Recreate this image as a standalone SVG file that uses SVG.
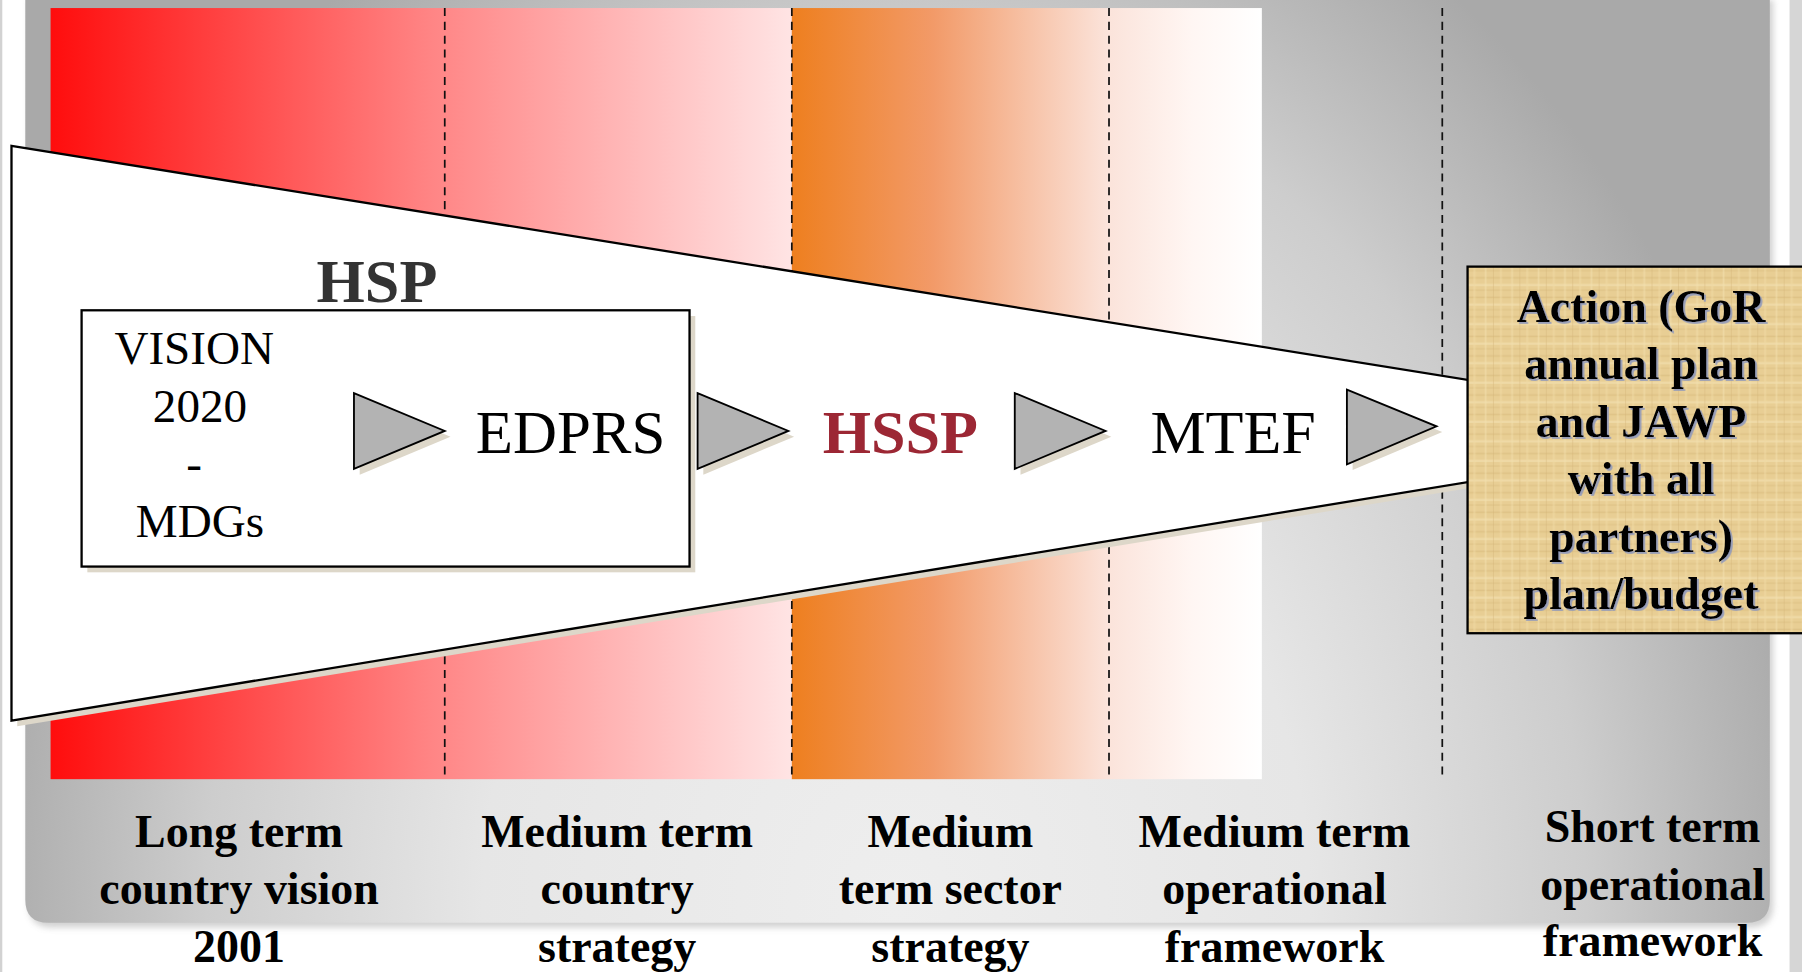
<svg xmlns="http://www.w3.org/2000/svg" width="1802" height="972" viewBox="0 0 1802 972">
<defs>
<style>
.reg{font-family:"Liberation Serif","Times New Roman",serif;font-weight:normal}
.bold{font-family:"Liberation Serif","Times New Roman",serif;font-weight:bold}
.dash{stroke:#111;stroke-width:1.5;stroke-dasharray:7 5;fill:none}
.tri{fill:#B3B3B3;stroke:#000;stroke-width:1.6;stroke-linejoin:miter}
.shadow{fill:#DDD7C9}
.lbl{font-size:40px;text-anchor:middle;fill:#000}
.act{font-size:40px;text-anchor:middle;fill:#000}
</style>
<radialGradient id="panelGrad" gradientUnits="userSpaceOnUse" cx="780" cy="790" r="1000" gradientTransform="translate(780 790) scale(0.8 1) translate(-780 -790)">
<stop offset="0" stop-color="#EEEEEE"/>
<stop offset="0.45" stop-color="#E6E6E6"/>
<stop offset="0.75" stop-color="#CDCDCD"/>
<stop offset="1" stop-color="#A9A9A9"/>
</radialGradient>
<linearGradient id="redGrad" gradientUnits="userSpaceOnUse" x1="44" y1="0" x2="689" y2="0">
<stop offset="0" stop-color="#FF0D0D"/>
<stop offset="0.5" stop-color="#FF8282"/>
<stop offset="1" stop-color="#FFE4E4"/>
</linearGradient>
<linearGradient id="orgGrad" gradientUnits="userSpaceOnUse" x1="689" y1="0" x2="1098" y2="0">
<stop offset="0" stop-color="#EE7F1F"/>
<stop offset="0.3" stop-color="#F29A68"/>
<stop offset="0.67" stop-color="#FBE3DA"/>
<stop offset="0.85" stop-color="#FFF6F3"/>
<stop offset="1" stop-color="#FFFFFF"/>
</linearGradient>
<pattern id="papyrus" patternUnits="userSpaceOnUse" width="23" height="17">
<rect width="23" height="17" fill="#E8CE94"/>
<rect x="0" y="3" width="23" height="1.5" fill="#D6B679" opacity="0.45"/>
<rect x="0" y="9" width="23" height="2" fill="#F3E1B2" opacity="0.6"/>
<rect x="0" y="14" width="23" height="1" fill="#CFAE70" opacity="0.35"/>
<rect x="4" y="0" width="1.5" height="17" fill="#F2DFAE" opacity="0.55"/>
<rect x="11" y="0" width="1" height="17" fill="#D3B275" opacity="0.4"/>
<rect x="17" y="0" width="2" height="17" fill="#EFD9A4" opacity="0.5"/>
</pattern>
<filter id="blur" x="-5%" y="-5%" width="110%" height="110%">
<feGaussianBlur stdDeviation="3"/>
</filter>
<filter id="tshadow" x="-5%" y="-10%" width="110%" height="130%">
<feDropShadow dx="1.6" dy="1.6" stdDeviation="0.6" flood-color="#8E98BC" flood-opacity="0.9"/>
</filter>
</defs>
<rect width="1802" height="972" fill="#FFFFFF"/>
<g transform="scale(1.14923)">
<g id="background">
<rect x="0" y="0" width="2" height="846" fill="#D2D2D2"/>
<rect x="1557" y="0" width="11" height="846" fill="#D6D6D6"/>
<rect x="1540" y="0" width="17" height="846" fill="#FFFFFF"/>
<path d="M25,0 H1543 V787 Q1543,807 1523,807 H45 Q25,807 25,787 Z" fill="#9A9A9A" opacity="0.45" filter="url(#blur)"/>
<path d="M22,0 H1540 V783 Q1540,803 1520,803 H42 Q22,803 22,783 Z" fill="url(#panelGrad)"/>
<rect x="44" y="7" width="645" height="671" fill="url(#redGrad)"/>
<rect x="689" y="7" width="409" height="671" fill="url(#orgGrad)"/>
<line class="dash" x1="387" y1="7" x2="387" y2="678"/>
<line class="dash" x1="689" y1="7" x2="689" y2="678"/>
<line class="dash" x1="965" y1="7" x2="965" y2="678"/>
<line class="dash" x1="1255" y1="7" x2="1255" y2="678"/>
</g>
<g id="funnel">
<polygon class="shadow" points="15,132 1283,336 1283,424 15,632"/>
<polygon points="10,127 1280,331 1280,419 10,627" fill="#FFFFFF" stroke="#000" stroke-width="2"/>
</g>
<g id="hsp-title">
<text class="bold" x="328" y="263" font-size="54" text-anchor="middle" fill="#333333">HSP</text>
</g>
<g id="vision-box">
<rect class="shadow" x="76" y="275" width="529" height="223"/>
<rect x="71" y="270" width="529" height="223" fill="#FFFFFF" stroke="#000" stroke-width="2"/>
<text class="reg" x="169" y="317" font-size="41" text-anchor="middle">VISION</text>
<text class="reg" x="174" y="367" font-size="41" text-anchor="middle">2020</text>
<text class="reg" x="169" y="417" font-size="41" text-anchor="middle">-</text>
<text class="reg" x="174" y="467" font-size="41" text-anchor="middle">MDGs</text>
</g>
<g id="edprs">
<text class="reg" x="414" y="394" font-size="53">EDPRS</text>
</g>
<g id="hssp">
<text class="bold" x="716" y="394" font-size="54" fill="#9C2734">HSSP</text>
</g>
<g id="mtef">
<text class="reg" x="1001" y="394" font-size="54">MTEF</text>
</g>
<g id="connectors">
<polygon class="shadow" points="313,347 392,380 313,413"/>
<polygon class="tri" points="308,342 387,375 308,408"/>
<polygon class="shadow" points="612,347 691,380 612,413"/>
<polygon class="tri" points="607,342 686,375 607,408"/>
<polygon class="shadow" points="888,347 967,380 888,413"/>
<polygon class="tri" points="883,342 962,375 883,408"/>
<polygon class="shadow" points="1177,344 1255,376 1177,409"/>
<polygon class="tri" points="1172,339 1250,371 1172,404"/>
</g>
<g id="action">
<rect x="1277" y="232" width="300" height="319" fill="url(#papyrus)" stroke="#000" stroke-width="2"/>
<g class="bold" filter="url(#tshadow)">
<text class="act" x="1428" y="280">Action (GoR</text>
<text class="act" x="1428" y="330">annual plan</text>
<text class="act" x="1428" y="380">and JAWP</text>
<text class="act" x="1428" y="430">with all</text>
<text class="act" x="1428" y="480">partners)</text>
<text class="act" x="1428" y="530">plan/budget</text>
</g>
</g>
<g id="labels" class="bold">
<g id="label-long">
<text class="lbl" x="208" y="737">Long term</text>
<text class="lbl" x="208" y="787">country vision</text>
<text class="lbl" x="208" y="837">2001</text>
</g>
<g id="label-medium-country">
<text class="lbl" x="537" y="737">Medium term</text>
<text class="lbl" x="537" y="787">country</text>
<text class="lbl" x="537" y="837">strategy</text>
</g>
<g id="label-medium-sector">
<text class="lbl" x="827" y="737">Medium</text>
<text class="lbl" x="827" y="787">term sector</text>
<text class="lbl" x="827" y="837">strategy</text>
</g>
<g id="label-medium-op">
<text class="lbl" x="1109" y="737">Medium term</text>
<text class="lbl" x="1109" y="787">operational</text>
<text class="lbl" x="1109" y="837">framework</text>
</g>
<g id="label-short">
<text class="lbl" x="1438" y="733">Short term</text>
<text class="lbl" x="1438" y="783">operational</text>
<text class="lbl" x="1438" y="832">framework</text>
</g>
</g>
</g>
</svg>
